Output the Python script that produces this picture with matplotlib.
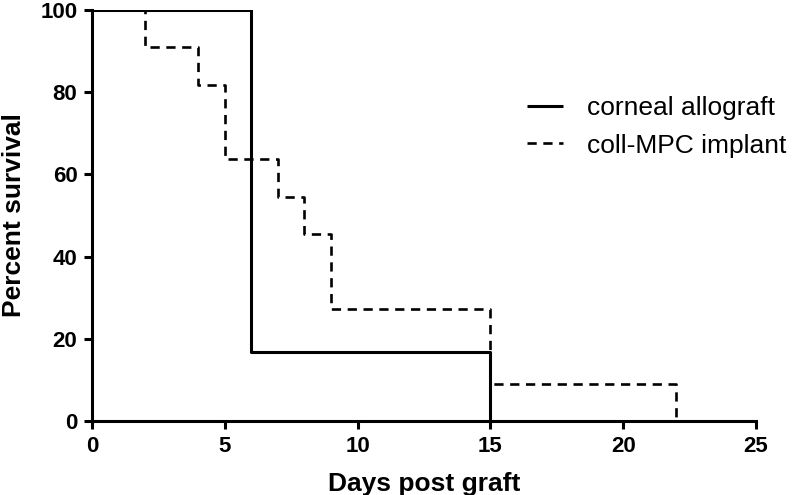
import matplotlib
matplotlib.use("Agg")
import matplotlib.pyplot as plt

plt.rcParams['font.family'] = ['Liberation Sans', 'DejaVu Sans']

allograft_days = [0, 6, 15]
allograft_surv = [100, 16.67, 0]
implant_days = [0, 2, 4, 5, 7, 8, 9, 15, 22]
implant_surv = [100, 90.91, 81.82, 63.64, 54.55, 45.45, 27.27, 9.09, 0]

fig = plt.figure(figsize=(7.97, 4.95), dpi=100)
ax = fig.add_axes([0.1154, 0.1495, 0.8332, 0.8303])

ax.step(allograft_days, allograft_surv, where='post', color='black', lw=2.2,
        label='corneal allograft', solid_capstyle='butt')
ax.step(implant_days, implant_surv, where='post', color='black', lw=1.9,
        ls=(0, (3.5, 2.5)), label='coll-MPC implant')

ax.set_xlim(0, 25)
ax.set_ylim(0, 100)
ax.set_xticks([0, 5, 10, 15, 20, 25])
ax.set_yticks([0, 20, 40, 60, 80, 100])
for s in ['top', 'right']:
    ax.spines[s].set_visible(False)
for s in ['left', 'bottom']:
    ax.spines[s].set_linewidth(2.2)
ax.tick_params(direction='out', length=5.5, width=2.2, labelsize=16, pad=5)
for lab in ax.get_xticklabels() + ax.get_yticklabels():
    lab.set_fontweight('bold')
ax.set_xlabel('Days post graft', fontsize=19, fontweight='bold')
ax.set_ylabel('Percent survival', fontsize=19, fontweight='bold')
ax.xaxis.set_label_coords(0.5, -0.125)
ax.yaxis.set_label_coords(-0.100, 0.5)

leg = ax.legend(loc='upper left', bbox_to_anchor=(0.655, 0.79), frameon=False,
                fontsize=19, handlelength=1.36, handletextpad=0.9,
                labelspacing=0.5, borderpad=0, borderaxespad=0)

fig.savefig('out.png', dpi=100)
